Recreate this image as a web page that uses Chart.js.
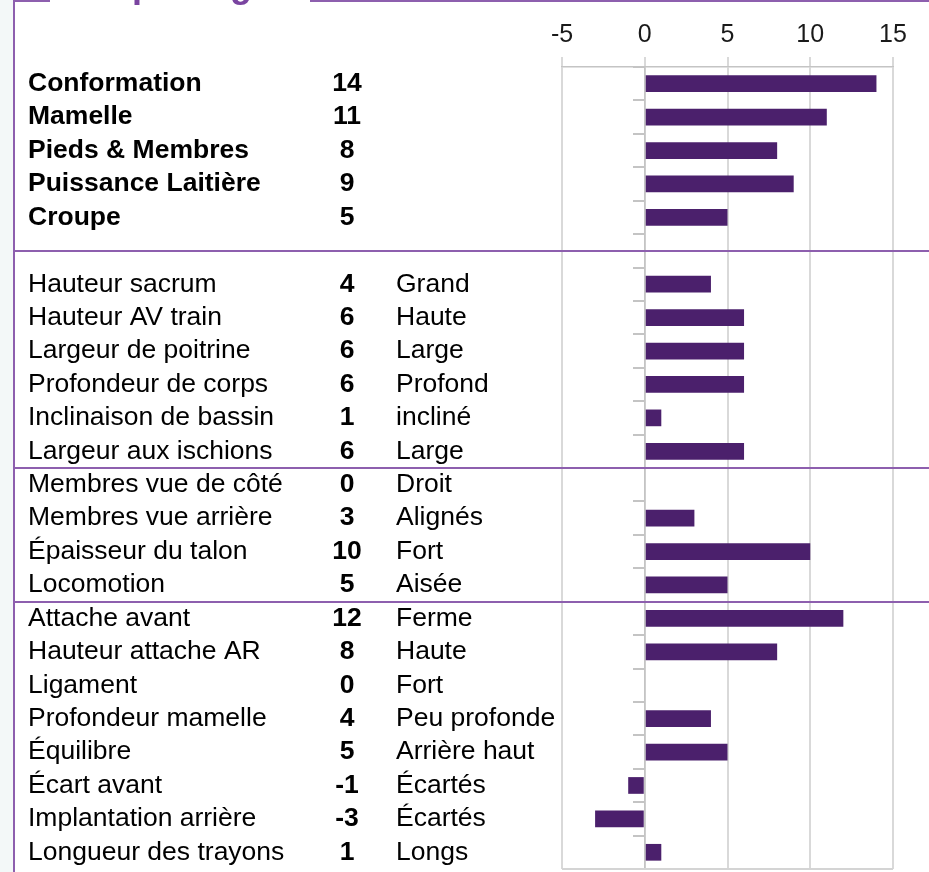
<!DOCTYPE html>
<html>
<head>
<meta charset="utf-8">
<script src="https://cdn.jsdelivr.net/npm/chart.js@4/dist/chart.umd.min.js"></script>
<style>
  html, body { margin: 0; padding: 0; background: #fff; }
  #wrap { width: 929px; height: 872px; position: relative; }
</style>
</head>
<body>
<div id="wrap"><canvas id="chart"></canvas></div>
<script>
// data
const traits = [
  "Conformation", "Mamelle", "Pieds & Membres", "Puissance Laitière", "Croupe",
  "",
  "Hauteur sacrum", "Hauteur AV train", "Largeur de poitrine", "Profondeur de corps",
  "Inclinaison de bassin", "Largeur aux ischions",
  "Membres vue de côté", "Membres vue arrière", "Épaisseur du talon", "Locomotion",
  "Attache avant", "Hauteur attache AR", "Ligament", "Profondeur mamelle",
  "Équilibre", "Écart avant", "Implantation arrière", "Longueur des trayons",
];
const scores = [14, 11, 8, 9, 5, null, 4, 6, 6, 6, 1, 6, 0, 3, 10, 5, 12, 8, 0, 4, 5, -1, -3, 1];
const descriptors = [
  "", "", "", "", "", "",
  "Grand", "Haute", "Large", "Profond", "incliné", "Large",
  "Droit", "Alignés", "Fort", "Aisée",
  "Ferme", "Haute", "Fort", "Peu profonde", "Arrière haut", "Écartés", "Écartés", "Longs",
];
const boldRows = 5; // the synthetic indexes are bold
const separatorRows = [5, 12, 16]; // blank row, then boundaries before these rows
const title = "Morphologie";

const FONT = "'Liberation Sans', Arial, sans-serif";
const PURPLE_LINE = "#8d5fae";

const tablePlugin = {
  id: "tableText",
  beforeDraw(chart) {
    const ctx = chart.ctx;
    ctx.save();
    ctx.fillStyle = "#f3f8f8";
    ctx.fillRect(0, 0, 14, chart.height);
    ctx.restore();
  },
  afterDraw(chart) {
    const { ctx, chartArea, scales: { y } } = chart;
    ctx.save();
    // bottom frame line of the plot
    ctx.strokeStyle = "#d4d4d4";
    ctx.lineWidth = 2;
    ctx.beginPath();
    ctx.moveTo(chartArea.left, chartArea.bottom);
    ctx.lineTo(chartArea.right, chartArea.bottom);
    ctx.stroke();

    // table columns
    ctx.textBaseline = "middle";
    ctx.fillStyle = "#000";
    traits.forEach((t, i) => {
      const py = y.getPixelForValue(i);
      const bold = i < boldRows;
      ctx.font = (bold ? "bold " : "") + "26.5px " + FONT;
      ctx.textAlign = "left";
      ctx.fillText(t, 28, py);
      if (scores[i] !== null) {
        ctx.font = "bold 26.5px " + FONT;
        ctx.textAlign = "center";
        ctx.fillText(String(scores[i]), 347, py);
      }
      if (descriptors[i]) {
        ctx.font = "26.5px " + FONT;
        ctx.textAlign = "left";
        ctx.fillText(descriptors[i], 396, py);
      }
    });

    // purple separators
    ctx.strokeStyle = PURPLE_LINE;
    ctx.lineWidth = 2;
    separatorRows.forEach((r, k) => {
      const py = k === 0 ? y.getPixelForValue(r)
        : (y.getPixelForValue(r - 1) + y.getPixelForValue(r)) / 2;
      ctx.beginPath();
      ctx.moveTo(14, Math.round(py));
      ctx.lineTo(chart.width, Math.round(py));
      ctx.stroke();
    });

    // frame: left and top border with title gap
    ctx.beginPath();
    ctx.moveTo(14, 0);
    ctx.lineTo(14, chart.height);
    ctx.moveTo(14, 1);
    ctx.lineTo(50, 1);
    ctx.moveTo(310, 1);
    ctx.lineTo(chart.width, 1);
    ctx.stroke();

    // title (cut off at the top)
    ctx.fillStyle = "#7a44a0";
    ctx.font = "bold 36px " + FONT;
    ctx.textAlign = "left";
    ctx.textBaseline = "alphabetic";
    ctx.fillText(title, 66, -3);
    ctx.restore();
  },
};

const ctx = document.getElementById("chart");
new Chart(ctx, {
  type: "bar",
  data: {
    labels: traits,
    datasets: [
      {
        data: scores,
        backgroundColor: "#4b206c",
        barPercentage: 0.5,
        categoryPercentage: 1,
      },
    ],
  },
  options: {
    indexAxis: "y",
    responsive: true,
    maintainAspectRatio: false,
    animation: false,
    layout: { padding: { left: 562, right: 36, top: 13, bottom: 3 } },
    plugins: {
      legend: { display: false },
      tooltip: { enabled: false },
    },
    scales: {
      x: {
        position: "top",
        min: -5,
        max: 15,
        ticks: {
          stepSize: 5,
          padding: 7,
          color: "#1a1a1a",
          font: { family: FONT, size: 25 },
        },
        grid: { color: "#d9d9d9", lineWidth: 2, tickLength: 10 },
        border: { color: "#c4c4c4", width: 1.5 },
      },
      y: {
        position: { x: 0 },
        ticks: { display: false },
        grid: {
          drawOnChartArea: false,
          color: "#c4c4c4",
          lineWidth: 2,
          tickLength: 11,
        },
        border: { color: "#c4c4c4", width: 1.5 },
      },
    },
  },
  plugins: [tablePlugin],
});
</script>
</body>
</html>
